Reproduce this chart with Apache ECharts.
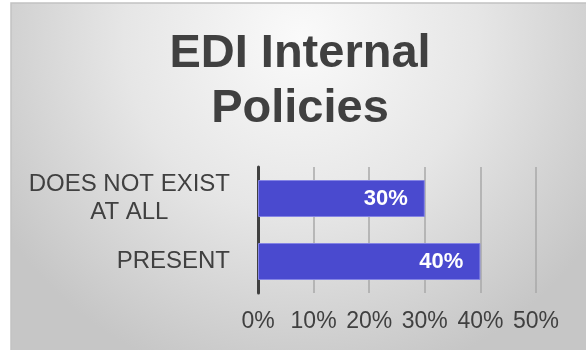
<!DOCTYPE html>
<html>
<head>
<meta charset="utf-8">
<script src="https://cdn.jsdelivr.net/npm/echarts@6/dist/echarts.min.js"></script>
<style>html,body{margin:0;padding:0;background:#fff}#c{width:586px;height:350px}</style>
</head>
<body>
<div id="c"></div>
<script>
var titleText = 'EDI Internal\nPolicies';
var categories = ['DOES NOT EXIST\nAT ALL', 'PRESENT'];
var values = [30, 40];
var xTicks = { min: 0, max: 50, interval: 10 };

var chart = echarts.init(document.getElementById('c'), null, { renderer: 'canvas' });
var font = 'Arial, "Liberation Sans", Helvetica, sans-serif';
var labelSize = 24;
var ctx = document.createElement('canvas').getContext('2d');
ctx.font = labelSize + 'px ' + font;

// centre each line of a multi-line category label within the label block
function centredLabel(v) {
  var lines = v.split('\n');
  if (lines.length < 2) return v;
  var widths = lines.map(function (s) { return ctx.measureText(s).width; });
  var maxW = Math.max.apply(null, widths);
  return lines.map(function (s, i) {
    var pad = Math.max(0, (maxW - widths[i]) / 2);
    return pad > 0.5 ? '{p' + i + '|\u00a0}{t|' + s + '}{p' + i + '|\u00a0}' : '{t|' + s + '}';
  }).join('\n');
}
var richStyles = { t: { fontFamily: font, fontSize: labelSize, color: '#404040', lineHeight: 28 } };
categories.forEach(function (c) {
  var lines = c.split('\n');
  if (lines.length < 2) return;
  var widths = lines.map(function (s) { return ctx.measureText(s).width; });
  var maxW = Math.max.apply(null, widths);
  lines.forEach(function (s, i) {
    richStyles['p' + i] = { width: Math.max(0, (maxW - widths[i]) / 2), fontFamily: font, fontSize: labelSize, lineHeight: 28 };
  });
});

chart.setOption({
  backgroundColor: '#ffffff',
  animation: false,
  graphic: [{
    type: 'rect', z: -10, silent: true,
    shape: { x: 11, y: 3, width: 580, height: 352 },
    style: {
      fill: { type: 'radial', x: 0.5, y: 0.1, r: 1.0,
        colorStops: [{ offset: 0, color: '#fafafa' }, { offset: 0.5, color: '#e6e6e6' }, { offset: 1, color: '#c6c6c6' }] },
      stroke: '#c2c2c2', lineWidth: 1.5
    }
  }],
  title: {
    text: titleText,
    left: 295, top: 22, textAlign: 'center',
    textStyle: { fontFamily: font, fontSize: 47, fontWeight: 'bold', color: '#404040', lineHeight: 55 }
  },
  grid: { left: 258, right: 50, top: 167, bottom: 57, containLabel: false },
  xAxis: {
    type: 'value', min: xTicks.min, max: xTicks.max, interval: xTicks.interval,
    axisLine: { show: false }, axisTick: { show: false },
    splitLine: { show: true, lineStyle: { color: '#a8a8a8', width: 1.5 } },
    axisLabel: { formatter: '{value}%', fontFamily: font, fontSize: 23, color: '#404040', margin: 17 }
  },
  yAxis: {
    type: 'category', inverse: true, data: categories,
    axisTick: { show: false },
    axisLine: { show: true, lineStyle: { color: '#404040', width: 3 } },
    axisLabel: { margin: 28, fontFamily: font, fontSize: labelSize, color: '#404040', lineHeight: 28,
      formatter: centredLabel, rich: richStyles }
  },
  series: [{
    type: 'bar', data: values, barWidth: 37,
    itemStyle: { color: '#4a4acf', borderColor: '#8484e4', borderWidth: 1 },
    label: { show: true, position: 'insideRight', distance: 17, formatter: '{c}%',
      color: '#ffffff', fontFamily: font, fontWeight: 'bold', fontSize: 22 }
  }]
});
</script>
</body>
</html>
